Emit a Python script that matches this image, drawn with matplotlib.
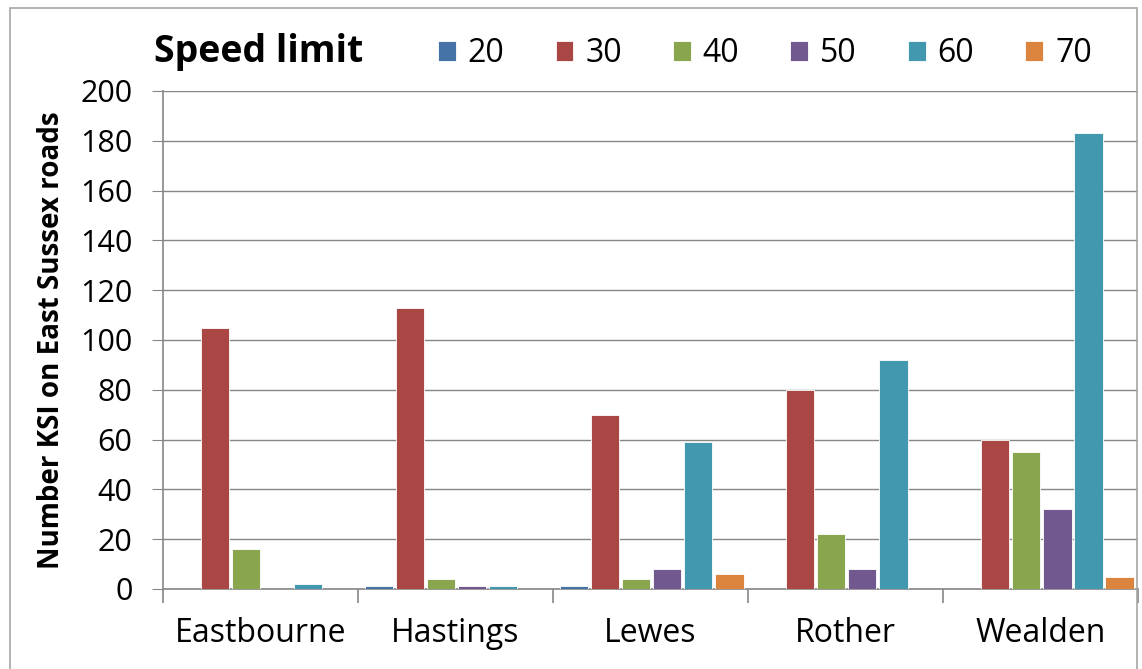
import matplotlib.pyplot as plt
from matplotlib.patches import Rectangle
import numpy as np

districts = ["Eastbourne", "Hastings", "Lewes", "Rother", "Wealden"]
speed_limits = ["20", "30", "40", "50", "60", "70"]
ksi_20 = [0, 1, 1, 0, 0]
ksi_30 = [105, 113, 70, 80, 60]
ksi_40 = [16, 4, 4, 22, 55]
ksi_50 = [0, 1, 8, 8, 32]
ksi_60 = [2, 1, 59, 92, 183]
ksi_70 = [0, 0, 6, 0, 5]
series = [ksi_20, ksi_30, ksi_40, ksi_50, ksi_60, ksi_70]
colours = ["#4572A7", "#AA4643", "#89A54E", "#71588F", "#4198AF", "#DB843D"]

plt.rcParams['font.family'] = ['Open Sans', 'DejaVu Sans']

fig = plt.figure(figsize=(11.42, 6.69), dpi=100)
ax = fig.add_axes([0.1427, 0.1196, 0.8538, 0.7444])

# outer chart border
fig.patches.append(Rectangle((0.009, -0.01), 0.987, 0.998, transform=fig.transFigure,
                             fill=False, edgecolor="#a6a6a6", lw=1.2))

x = np.arange(len(districts))
pitch = 0.159
width = 0.146
for i, (vals, col) in enumerate(zip(series, colours)):
    offs = -0.5 + 0.036 + pitch * i + width / 2
    ax.bar(x + offs, vals, width=width, color=col, edgecolor="white", lw=0.6,
           label=speed_limits[i], zorder=3)

ax.set_xlim(-0.5, len(districts) - 0.5)
ax.set_ylim(0, 200)
ax.set_yticks(range(0, 201, 20))
ax.tick_params(axis="y", labelsize=22, length=8, color="#868686", pad=14)
ax.set_xticks(x)
ax.set_xticklabels(districts)
ax.tick_params(axis="x", which="major", length=0, labelsize=23, pad=20)
ax.set_xticks(np.arange(-0.5, len(districts)), minor=True)
ax.tick_params(axis="x", which="minor", length=10, color="#868686", width=1.2)
ax.grid(axis="y", color="#868686", lw=1.0, zorder=0)
for side in ["top", "right"]:
    ax.spines[side].set_visible(False)
for side in ["left", "bottom"]:
    ax.spines[side].set_color("#868686")
    ax.spines[side].set_linewidth(1.2)

ax.set_ylabel("Number KSI on East Sussex roads", fontsize=20, fontweight="bold", labelpad=10)

fig.text(0.135, 0.922, "Speed limit", fontsize=27, fontweight="bold", va="center")
ax.legend(loc="center left", bbox_to_anchor=(0.269, 1.075), ncol=6, frameon=False,
          fontsize=23, handlelength=0.56, handleheight=0.6, handletextpad=0.37,
          columnspacing=1.6, borderaxespad=0)

fig.savefig("out.png", dpi=100)
